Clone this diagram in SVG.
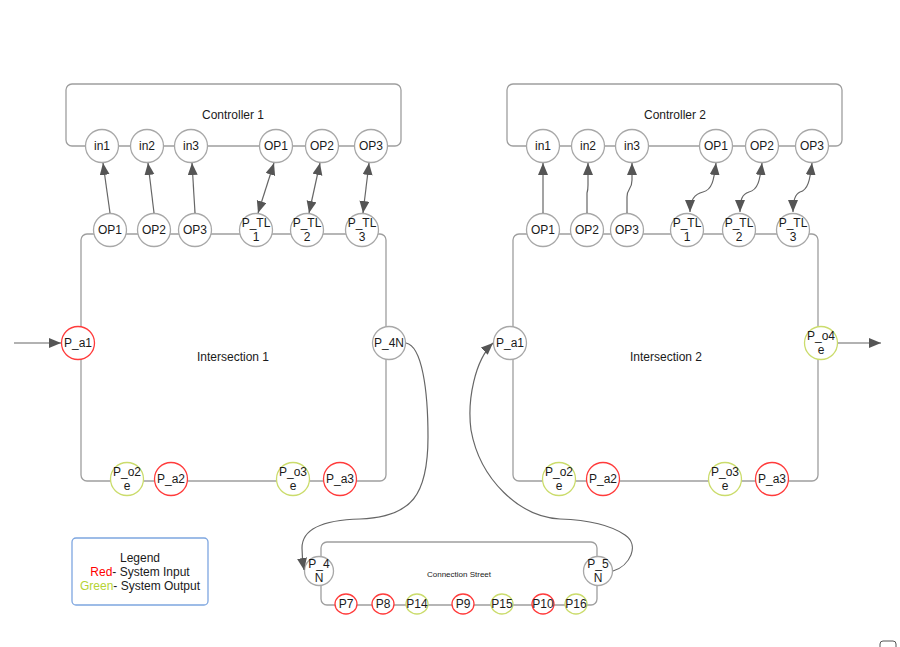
<svg xmlns="http://www.w3.org/2000/svg" width="900" height="647" viewBox="0 0 900 647">
<defs>
<style>
text{font-family:"Liberation Sans",Arial,sans-serif;font-size:12px;fill:#1a1a1a;text-anchor:middle;dominant-baseline:central}
.box{fill:#fff;stroke:#9e9e9e;stroke-width:1.3}
.p{fill:#fff;stroke:#a8a8a8;stroke-width:1.3}
.r{fill:#fff;stroke:#ff3b3b;stroke-width:1.3}
.g{fill:#fff;stroke:#cbdc6c;stroke-width:1.3}
.c{fill:none;stroke:#666;stroke-width:1.2}
.a{marker-end:url(#ah)}
.b{marker-end:url(#ah);marker-start:url(#ah)}
.sm{font-size:8px}
</style>
<marker id="ah" markerUnits="userSpaceOnUse" markerWidth="13" markerHeight="11" refX="12" refY="5" orient="auto-start-reverse" viewBox="0 0 13 11">
<path d="M0,0 L12,5 L0,10 z" fill="#555"/>
</marker>
</defs>
<rect width="900" height="647" fill="#fff"/>

<g id="controller1">
<rect class="box" x="66" y="84" width="335" height="62" rx="6"/>
<text x="233" y="115">Controller 1</text>
</g>
<g id="c1_in1"><circle class="p" cx="102" cy="146" r="16.5"/><text x="102" y="146">in1</text></g>
<g id="c1_in2"><circle class="p" cx="147" cy="146" r="16.5"/><text x="147" y="146">in2</text></g>
<g id="c1_in3"><circle class="p" cx="191" cy="146" r="16.5"/><text x="191" y="146">in3</text></g>
<g id="c1_op1"><circle class="p" cx="276" cy="146" r="16.5"/><text x="276" y="146">OP1</text></g>
<g id="c1_op2"><circle class="p" cx="322" cy="146" r="16.5"/><text x="322" y="146">OP2</text></g>
<g id="c1_op3"><circle class="p" cx="371" cy="146" r="16.5"/><text x="371" y="146">OP3</text></g>

<g id="intersection1">
<rect class="box" x="81" y="234" width="305" height="247" rx="6"/>
<text x="233" y="357">Intersection 1</text>
</g>
<g id="i1_op1"><circle class="p" cx="110" cy="230" r="16.5"/><text x="110" y="230">OP1</text></g>
<g id="i1_op2"><circle class="p" cx="154" cy="230" r="16.5"/><text x="154" y="230">OP2</text></g>
<g id="i1_op3"><circle class="p" cx="195" cy="230" r="16.5"/><text x="195" y="230">OP3</text></g>
<g id="i1_ptl1"><circle class="p" cx="256" cy="230" r="16.5"/><text x="256" y="223">P_TL</text><text x="256" y="237">1</text></g>
<g id="i1_ptl2"><circle class="p" cx="307" cy="230" r="16.5"/><text x="307" y="223">P_TL</text><text x="307" y="237">2</text></g>
<g id="i1_ptl3"><circle class="p" cx="362" cy="230" r="16.5"/><text x="362" y="223">P_TL</text><text x="362" y="237">3</text></g>
<g id="i1_pa1"><circle class="r" cx="78" cy="343" r="16.5"/><text x="78" y="343">P_a1</text></g>
<g id="i1_p4n"><circle class="p" cx="389" cy="343" r="16.5"/><text x="389" y="343">P_4N</text></g>
<g id="i1_po2e"><circle class="g" cx="127" cy="479" r="16.5"/><text x="127" y="472">P_o2</text><text x="127" y="486">e</text></g>
<g id="i1_pa2"><circle class="r" cx="171" cy="479" r="16.5"/><text x="171" y="479">P_a2</text></g>
<g id="i1_po3e"><circle class="g" cx="293" cy="479" r="16.5"/><text x="293" y="472">P_o3</text><text x="293" y="486">e</text></g>
<g id="i1_pa3"><circle class="r" cx="340" cy="479" r="16.5"/><text x="340" y="479">P_a3</text></g>

<g id="controller2">
<rect class="box" x="507" y="84" width="335" height="62" rx="6"/>
<text x="675" y="115">Controller 2</text>
</g>
<g id="c2_in1"><circle class="p" cx="543" cy="146" r="16.5"/><text x="543" y="146">in1</text></g>
<g id="c2_in2"><circle class="p" cx="588" cy="146" r="16.5"/><text x="588" y="146">in2</text></g>
<g id="c2_in3"><circle class="p" cx="632" cy="146" r="16.5"/><text x="632" y="146">in3</text></g>
<g id="c2_op1"><circle class="p" cx="716" cy="146" r="16.5"/><text x="716" y="146">OP1</text></g>
<g id="c2_op2"><circle class="p" cx="762" cy="146" r="16.5"/><text x="762" y="146">OP2</text></g>
<g id="c2_op3"><circle class="p" cx="812" cy="146" r="16.5"/><text x="812" y="146">OP3</text></g>

<g id="intersection2">
<rect class="box" x="513" y="234" width="305" height="247" rx="6"/>
<text x="666" y="357">Intersection 2</text>
</g>
<g id="i2_op1"><circle class="p" cx="543" cy="230" r="16.5"/><text x="543" y="230">OP1</text></g>
<g id="i2_op2"><circle class="p" cx="587" cy="230" r="16.5"/><text x="587" y="230">OP2</text></g>
<g id="i2_op3"><circle class="p" cx="627" cy="230" r="16.5"/><text x="627" y="230">OP3</text></g>
<g id="i2_ptl1"><circle class="p" cx="687" cy="230" r="16.5"/><text x="687" y="223">P_TL</text><text x="687" y="237">1</text></g>
<g id="i2_ptl2"><circle class="p" cx="739" cy="230" r="16.5"/><text x="739" y="223">P_TL</text><text x="739" y="237">2</text></g>
<g id="i2_ptl3"><circle class="p" cx="793" cy="230" r="16.5"/><text x="793" y="223">P_TL</text><text x="793" y="237">3</text></g>
<g id="i2_pa1"><circle class="p" cx="510" cy="343" r="16.5"/><text x="510" y="343">P_a1</text></g>
<g id="i2_po4e"><circle class="g" cx="821" cy="343" r="16.5"/><text x="821" y="336">P_o4</text><text x="821" y="350">e</text></g>
<g id="i2_po2e"><circle class="g" cx="559" cy="479" r="16.5"/><text x="559" y="472">P_o2</text><text x="559" y="486">e</text></g>
<g id="i2_pa2"><circle class="r" cx="603" cy="479" r="16.5"/><text x="603" y="479">P_a2</text></g>
<g id="i2_po3e"><circle class="g" cx="725" cy="479" r="16.5"/><text x="725" y="472">P_o3</text><text x="725" y="486">e</text></g>
<g id="i2_pa3"><circle class="r" cx="772" cy="479" r="16.5"/><text x="772" y="479">P_a3</text></g>

<g id="connection_street">
<rect class="box" x="321" y="542" width="276" height="63" rx="6"/>
<text class="sm" x="459" y="574">Connection Street</text>
</g>
<g id="cs_p4n"><circle class="p" cx="319" cy="571" r="14.5"/><text x="319" y="564">P_4</text><text x="319" y="578">N</text></g>
<g id="cs_p5n"><circle class="p" cx="598" cy="571" r="14.5"/><text x="598" y="564">P_5</text><text x="598" y="578">N</text></g>
<g id="cs_p7"><ellipse class="r" cx="346" cy="604" rx="11" ry="10"/><text x="346" y="604">P7</text></g>
<g id="cs_p8"><ellipse class="r" cx="383" cy="604" rx="11" ry="10"/><text x="383" y="604">P8</text></g>
<g id="cs_p14"><ellipse class="g" cx="417" cy="604" rx="11" ry="10"/><text x="417" y="604">P14</text></g>
<g id="cs_p9"><ellipse class="r" cx="463" cy="604" rx="11" ry="10"/><text x="463" y="604">P9</text></g>
<g id="cs_p15"><ellipse class="g" cx="502" cy="604" rx="11" ry="10"/><text x="502" y="604">P15</text></g>
<g id="cs_p10"><ellipse class="r" cx="543" cy="604" rx="11" ry="10"/><text x="543" y="604">P10</text></g>
<g id="cs_p16"><ellipse class="g" cx="576" cy="604" rx="11" ry="10"/><text x="576" y="604">P16</text></g>

<g id="legend">
<rect x="72" y="538" width="136" height="67" rx="4" fill="#fff" stroke="#7ea6e0" stroke-width="1.3"/>
<text x="140" y="558">Legend</text>
<text x="140" y="572"><tspan style="fill:#ff0000">Red</tspan>- System Input</text>
<text x="140" y="586"><tspan style="fill:#b5d334">Green</tspan>- System Output</text>
</g>

<g id="connectors">
<path class="c a" d="M14,343 L61,343"/>
<path class="c a" d="M838,343 L881,343"/>
<path class="c a" d="M110,213 L103,163"/>
<path class="c a" d="M154,213 L148,163"/>
<path class="c a" d="M195,213 L192,163"/>
<path class="c b" d="M258,213 L274,163"/>
<path class="c b" d="M309,213 L320,163"/>
<path class="c b" d="M363,213 L369,163"/>
<path class="c a" d="M543,213 L543,163"/>
<path class="c a" d="M587,213 L587,193 Q588,190 588,185 L588,163"/>
<path class="c a" d="M627,213 L627,197 C627,188 632,190 632,180 L632,163"/>
<path class="c b" d="M716,163 C714,180 712,190 703,192 C694,194 690,200 690,212"/>
<path class="c b" d="M762,163 C760,180 758,190 749,192 C742,194 740,200 740,212"/>
<path class="c b" d="M812,163 C810,180 808,190 800,192 C795,194 793,200 793,212"/>
<path class="c a" d="M406,343 C422,346 428,390 428,437 C428,495 412,517 360,519 C320,520 302,530 302,548 C302,558 303,564 304,570"/>
<path class="c a" d="M613,571 C630,566 640,545 625,535 C612,526 590,520 560,519 C520,517 480,480 471,430 C467,400 475,360 493,343"/>
</g>

<rect x="880" y="641" width="16" height="12" rx="3" fill="#fff" stroke="#555" stroke-width="1"/>
</svg>
